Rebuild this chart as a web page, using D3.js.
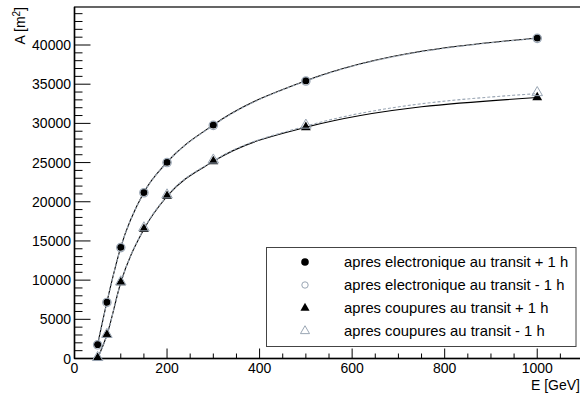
<!DOCTYPE html>
<html><head><meta charset="utf-8">
<script src="https://cdn.jsdelivr.net/npm/d3@7"></script>
<style>body{margin:0;background:#fff}svg{display:block;font-family:"Liberation Sans",Arial,sans-serif}</style>
</head><body><svg id="c" width="580" height="396"></svg>
<script>
const energies = [50, 70, 100, 150, 200, 300, 500, 1000];
const elecPlus = [1800, 7200, 14200, 21200, 25050, 29800, 35450, 40900];
const elecMinus = [1750, 7150, 14150, 21150, 25000, 29750, 35400, 40850];
const coupPlus = [50, 3000, 9700, 16500, 20700, 25150, 29500, 33300];
const coupMinus = [0, 2950, 9650, 16550, 20750, 25200, 29650, 33800];
const xTicks = [0, 200, 400, 600, 800, 1000];
const yTicks = [0, 5000, 10000, 15000, 20000, 25000, 30000, 35000, 40000];
const legendLabels = ["apres electronique au transit + 1 h", "apres electronique au transit - 1 h", "apres coupures au transit + 1 h", "apres coupures au transit - 1 h"];

const svg = d3.select("#c");
const x = d3.scaleLinear().domain([0, 1100]).range([74.5, 583.5]);
const y = d3.scaleLinear().domain([0, 44850]).range([358.5, 7]);
const grey = "#9aa6b4";

// frame
svg.append("rect").attr("x", 74.5).attr("y", 7).attr("width", 520).attr("height", 351.5)
  .attr("fill", "none").attr("stroke", "#000").attr("stroke-width", 1.2);

// x axis ticks
const xMinor = d3.range(0, 1101, 50);
svg.append("g").selectAll("line").data(xMinor).join("line")
  .attr("x1", d => x(d)).attr("x2", d => x(d))
  .attr("y1", 358.5).attr("y2", d => d % 200 === 0 ? 348.5 : 353.5)
  .attr("stroke", "#000").attr("stroke-width", 1);
svg.append("g").selectAll("text").data(xTicks).join("text")
  .attr("x", d => x(d)).attr("y", 373).attr("text-anchor", "middle")
  .attr("font-size", 14).text(d => d);
// y axis ticks
const yMinor = d3.range(0, 44001, 1000);
svg.append("g").selectAll("line").data(yMinor).join("line")
  .attr("y1", d => y(d)).attr("y2", d => y(d))
  .attr("x1", 74.5).attr("x2", d => d % 5000 === 0 ? 90.5 : 82.5)
  .attr("stroke", "#000").attr("stroke-width", 1);
svg.append("g").selectAll("text").data(yTicks).join("text")
  .attr("x", 71).attr("y", d => y(d) + 5).attr("text-anchor", "end")
  .attr("font-size", 14).text(d => d);
// axis lines thicker
svg.append("line").attr("x1", 74.5).attr("x2", 580).attr("y1", 358.5).attr("y2", 358.5).attr("stroke", "#000").attr("stroke-width", 1.5);
svg.append("line").attr("x1", 74.5).attr("x2", 74.5).attr("y1", 7).attr("y2", 358.5).attr("stroke", "#000").attr("stroke-width", 1.5);

// titles
svg.append("text").attr("x", 580).attr("y", 390).attr("text-anchor", "end").attr("font-size", 14).text("E [GeV]");
const yt = svg.append("text").attr("transform", "translate(25,7) rotate(-90)").attr("text-anchor", "end").attr("font-size", 14);
yt.append("tspan").text("A [m");
yt.append("tspan").attr("dy", -5).attr("font-size", 10).text("2");
yt.append("tspan").attr("dy", 5).text("]");

// curves
const line = d3.line().x(d => x(d[0])).y(d => y(d[1])).curve(d3.curveMonotoneX);
function drawCurve(vals, color, dash, w) {
  svg.append("path").datum(energies.map((e, i) => [e, vals[i]]))
    .attr("d", line).attr("fill", "none").attr("stroke", color)
    .attr("stroke-width", w).attr("stroke-dasharray", dash);
}
drawCurve(elecPlus, "#000", null, 1.1);
drawCurve(coupPlus, "#000", null, 1.1);
drawCurve(elecMinus, grey, "3,2", 1.1);
drawCurve(coupMinus, grey, "3,2", 1.1);

const tri = d3.symbol().type(d3.symbolTriangle);
function markers(vals, kind) {
  const g = svg.append("g");
  const pts = energies.map((e, i) => [x(e), y(vals[i])]);
  if (kind === 0) g.selectAll("circle").data(pts).join("circle").attr("cx", d => d[0]).attr("cy", d => d[1]).attr("r", 3.6).attr("fill", "#000");
  if (kind === 1) g.selectAll("circle").data(pts).join("circle").attr("cx", d => d[0]).attr("cy", d => d[1]).attr("r", 4.2).attr("fill", "none").attr("stroke", grey).attr("stroke-width", 1.2);
  if (kind === 2) g.selectAll("path").data(pts).join("path").attr("transform", d => `translate(${d[0]},${d[1]})`).attr("d", tri.size(42)).attr("fill", "#000");
  if (kind === 3) g.selectAll("path").data(pts).join("path").attr("transform", d => `translate(${d[0]},${d[1] - 1})`).attr("d", tri.size(48)).attr("fill", "none").attr("stroke", grey).attr("stroke-width", 1);
}
markers(elecPlus, 0);
markers(elecMinus, 1);
markers(coupPlus, 2);
markers(coupMinus, 3);

// legend
const lg = svg.append("g");
lg.append("rect").attr("x", 266.5).attr("y", 247.5).attr("width", 309.5).attr("height", 99).attr("fill", "#fff").attr("stroke", "#444").attr("stroke-width", 1);
legendLabels.forEach((lab, i) => {
  const cy = 262 + i * 23;
  if (i === 0) lg.append("circle").attr("cx", 305).attr("cy", cy).attr("r", 3.8).attr("fill", "#000");
  if (i === 1) lg.append("circle").attr("cx", 305).attr("cy", cy).attr("r", 3.2).attr("fill", "none").attr("stroke", grey).attr("stroke-width", 1);
  if (i === 2) lg.append("path").attr("transform", `translate(305,${cy})`).attr("d", tri.size(36)).attr("fill", "#000");
  if (i === 3) lg.append("path").attr("transform", `translate(305,${cy})`).attr("d", tri.size(36)).attr("fill", "none").attr("stroke", grey).attr("stroke-width", 1);
  lg.append("text").attr("x", 344).attr("y", cy + 5).attr("font-size", 14.8).text(lab);
});
</script></body></html>
